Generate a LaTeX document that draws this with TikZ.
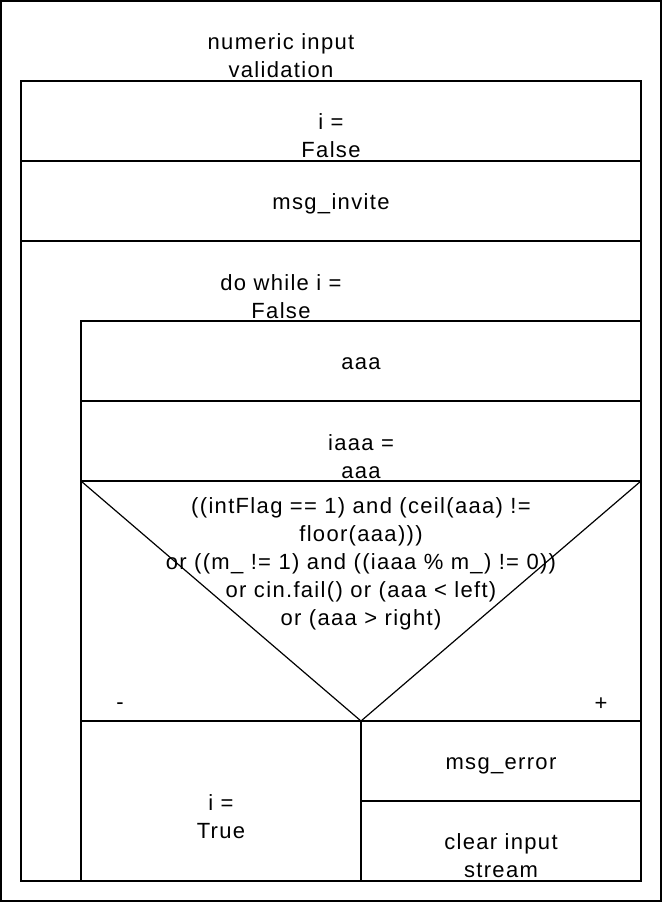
\documentclass[tikz,border=0pt]{standalone}
\usepackage{fontspec}
\setmainfont{Liberation Sans}[LetterSpace=6]
\begin{document}
\begin{tikzpicture}[x=1pt,y=-1pt,
  frame/.style={line width=2pt,line cap=rect},
  diag/.style={line width=1.2pt},
  lbl/.style={inner sep=0pt,align=center,font=\fontsize{22}{28}\selectfont}]
\useasboundingbox (0,0) rectangle (662,902);
% outer border and main frame
\draw[frame] (1,1) rectangle (661,901);
\draw[frame] (21,81) rectangle (641,881);
% sequence separators
\draw[frame] (21,161) -- (641,161);
\draw[frame] (21,241) -- (641,241);
% loop body
\draw[frame] (81,881) -- (81,321) -- (641,321);
\draw[frame] (81,401) -- (641,401);
\draw[frame] (81,481) -- (641,481);
% decision
\coordinate (dl) at (81,481);
\coordinate (dr) at (641,481);
\coordinate (dv) at (361,721);
\draw[diag] (dl) -- (dv) -- (dr);
\draw[frame] (81,721) -- (641,721);
\draw[frame] (361,721) -- (361,881);
\draw[frame] (361,801) -- (641,801);
% texts
\node[lbl] (title) at (281,56) {numeric input\\validation};
\node[lbl] (s1) at (331,135.5) {i =\\False};
\node[lbl] (s2) at (331,204) {msg\_invite};
\node[lbl] (loop) at (281,296.5) {do while i =\\False};
\node[lbl] (b1) at (361,364) {aaa};
\node[lbl] (b2) at (361,456.5) {iaaa =\\aaa};
\node[lbl] (cond) at (361,563.5) {((intFlag == 1) and (ceil(aaa) !=\\floor(aaa)))\\or ((m\_ != 1) and ((iaaa \% m\_) != 0))\\or cin.fail() or (aaa < left)\\or (aaa > right)};
\node[lbl] (no) at (120,706) {-};
\node[lbl] (yes) at (601,704) {+};
\node[lbl] (t1) at (221,816.5) {i =\\True};
\node[lbl] (e1) at (501,766) {msg\_error};
\node[lbl] (e2) at (501,856) {clear input\\stream};
\end{tikzpicture}
\end{document}
